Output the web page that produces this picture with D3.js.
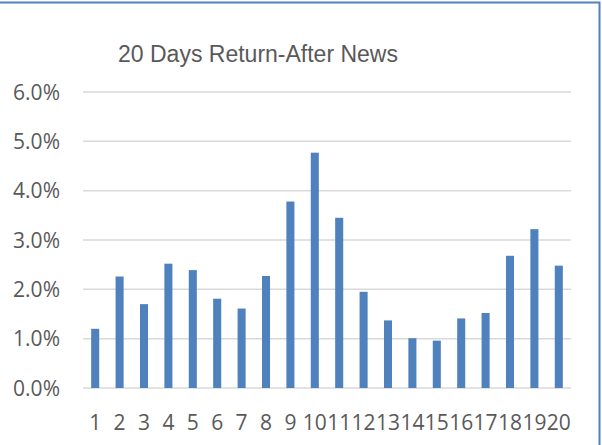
<!DOCTYPE html>
<html>
<head>
<meta charset="utf-8">
<script src="https://cdn.jsdelivr.net/npm/d3@7"></script>
<style>
  body { margin: 0; background: #fff; }
  text { font-family: "Open Sans", sans-serif; fill: #595959; }
  .title { font-family: "Liberation Sans", Arial, sans-serif; }
</style>
</head>
<body>
<svg id="chart" width="602" height="445"></svg>
<script>
// data
const days = ["1","2","3","4","5","6","7","8","9","10","11","12","13","14","15","16","17","18","19","20"];
const returns = [0.0120, 0.0226, 0.0170, 0.0252, 0.0239, 0.0181, 0.0161, 0.0227, 0.0378, 0.0477,
  0.0345, 0.0195, 0.0137, 0.0101, 0.0096, 0.0141, 0.0152, 0.0268, 0.0322, 0.0248];
const yTicks = [0, 0.01, 0.02, 0.03, 0.04, 0.05, 0.06];
const title = "20 Days Return-After News";

const svg = d3.select("#chart");

const margin = {top: 92, left: 83, right: 31, bottom: 57};
const width = 602 - margin.left - margin.right,
  height = 445 - margin.top - margin.bottom;

// frame (chart is cropped on the left and bottom)
svg.append("path")
  .attr("d", "M0,2.5 H599.5 V445")
  .attr("fill", "none")
  .attr("stroke", "#4f81bd")
  .attr("stroke-width", 2);

svg.append("text")
  .attr("class", "title")
  .attr("x", 258)
  .attr("y", 62)
  .attr("text-anchor", "middle")
  .style("font-size", "23px")
  .text(title);

const g = svg.append("g")
  .attr("transform", "translate(" + margin.left + "," + margin.top + ")");

const x = d3.scaleBand().domain(days).range([0, width]).paddingInner(0.67).paddingOuter(0.335);
const y = d3.scaleLinear().domain([0, 0.06]).range([height, 0]);

// gridlines
g.selectAll(".grid")
  .data(yTicks)
  .enter().append("line")
  .attr("x1", 0)
  .attr("x2", width)
  .attr("y1", d => y(d))
  .attr("y2", d => y(d))
  .attr("stroke", "#d9d9d9")
  .attr("stroke-width", 1.5);

// y labels
g.selectAll(".ylab")
  .data(yTicks)
  .enter().append("text")
  .attr("x", -23)
  .attr("y", d => y(d))
  .attr("dy", "0.36em")
  .attr("text-anchor", "end")
  .style("font-size", "21px")
  .text(d3.format(".1%"));

// bars
g.selectAll(".bar")
  .data(returns)
  .enter().append("rect")
  .attr("x", (d, i) => x(days[i]))
  .attr("width", x.bandwidth())
  .attr("y", d => y(d))
  .attr("height", d => y(0) - y(d))
  .attr("fill", "#4f81bd");

// x labels
g.selectAll(".xlab")
  .data(days)
  .enter().append("text")
  .attr("x", d => x(d) + x.bandwidth() / 2)
  .attr("y", height + 41.5)
  .attr("text-anchor", "middle")
  .style("font-size", "21px")
  .text(d => d);
</script>
</body>
</html>
